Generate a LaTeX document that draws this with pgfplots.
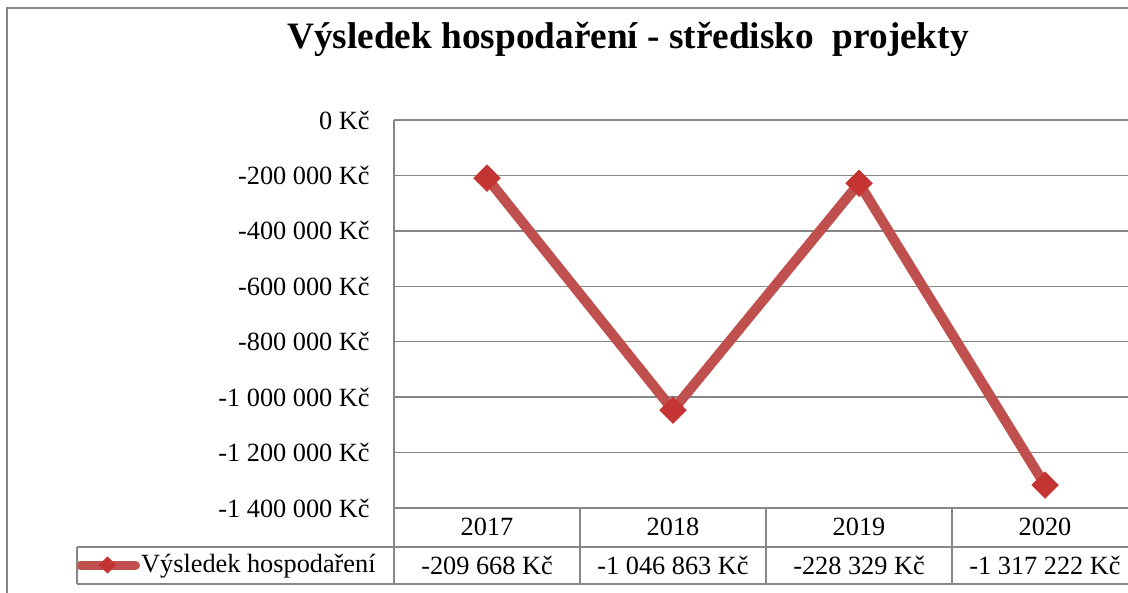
\documentclass[border=0pt]{standalone}
\usepackage{fontspec}
\setmainfont{Liberation Serif}
\usepackage{pgfplots}
\pgfplotsset{compat=1.18}

\definecolor{linered}{RGB}{192,80,77}
\definecolor{markred}{RGB}{196,52,50}
\definecolor{gridgray}{RGB}{134,134,134}

\begin{document}
% 1 unit = 1 pixel of the reference, y measured from the bottom
\begin{tikzpicture}[x=0.5bp,y=0.5bp]
\useasboundingbox (0,0) rectangle (1128,592);
\clip (0,0) rectangle (1128,592);
\fill[white] (0,0) rectangle (1128,592);
\draw[gridgray, line width=1bp] (7,584) rectangle (1160,-28);

\node[font=\fontsize{18.7}{22}\selectfont\bfseries] at (628,553)
  {Výsledek hospodaření - středisko\ \ projekty};

\begin{axis}[
    at={(197bp,42bp)}, anchor=south west,
    scale only axis, width=372bp, height=194bp,
    xmin=0.5, xmax=4.5,
    ymin=-1400000, ymax=0,
    scaled y ticks=false,
    axis lines*=left,
    axis line style={gridgray, line width=0.75bp},
    xtick=\empty,
    ytick={-1400000,-1200000,-1000000,-800000,-600000,-400000,-200000,0},
    yticklabels={-1 400 000 Kč,-1 200 000 Kč,-1 000 000 Kč,-800 000 Kč,-600 000 Kč,-400 000 Kč,-200 000 Kč,0 Kč},
    yticklabel style={font=\fontsize{13.2}{15}\selectfont, inner sep=0pt, xshift=-12bp},
    major tick length=0pt,
    ymajorgrids,
    grid style={gridgray, line width=0.75bp},
    clip=false,
    legend entries={Výsledek hospodaření},
    legend style={at={(-0.428,-0.147)}, anchor=west, draw=none, fill=none,
      inner sep=0pt, nodes={inner sep=0.6bp}, font=\fontsize{13.2}{15}\selectfont},
    legend image code/.code={
      \draw[#1, mark=none, line width=4.5bp, line cap=round] (1.5bp,0bp) -- (29bp,0bp);
      \draw[#1, only marks, mark size=2.8bp] plot coordinates {(15bp,0bp)};},
]
\addplot[linered, line width=5bp, line cap=round,
  mark=square*, mark size=4.6bp,
  mark options={rotate=45, fill=markred, draw=markred, line width=0.5bp}]
  coordinates {(1,-209668) (2,-1046863) (3,-228329) (4,-1317222)};
\end{axis}

% data table below the plot
\begin{scope}[gridgray, line width=0.75bp]
  \draw (77,45) -- (1200,45);
  \draw (77,8) -- (1200,8);
  \draw (77,45) -- (77,8);
  \foreach \xx in {394,580,766,952,1138}
    \draw (\xx,84) -- (\xx,8);
\end{scope}
\begin{scope}[font=\fontsize{13.2}{15}\selectfont]
  \node at (487,65) {2017};
  \node at (673,65) {2018};
  \node at (859,65) {2019};
  \node at (1045,65) {2020};
  \node at (487,27) {-209 668 Kč};
  \node at (673,27) {-1 046 863 Kč};
  \node at (859,27) {-228 329 Kč};
  \node at (1045,27) {-1 317 222 Kč};
\end{scope}
\end{tikzpicture}
\end{document}
